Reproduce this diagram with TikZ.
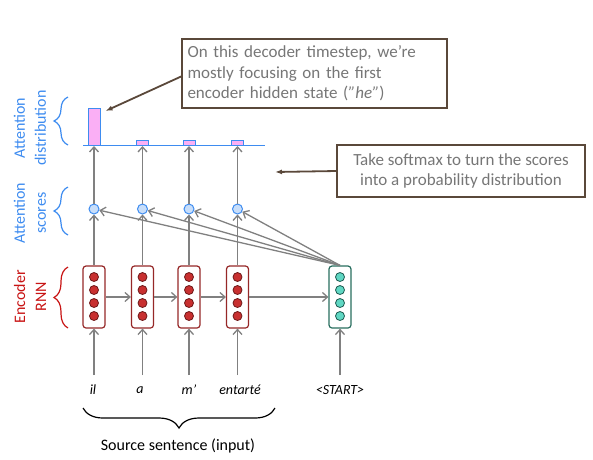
\documentclass[tikz,border=0pt]{standalone}
\usepackage{fontspec}
\setmainfont{Carlito}
\usetikzlibrary{arrows.meta,decorations.pathreplacing}
\definecolor{garr}{RGB}{128,128,128}
\definecolor{attblue}{RGB}{62,140,240}
\definecolor{labred}{RGB}{200,20,20}
\definecolor{encborder}{RGB}{150,40,40}
\definecolor{encfill}{RGB}{200,48,48}
\definecolor{encdotb}{RGB}{110,25,25}
\definecolor{decborder}{RGB}{40,110,95}
\definecolor{decfill}{RGB}{95,215,195}
\definecolor{decdotb}{RGB}{30,90,80}
\definecolor{scorefill}{RGB}{200,222,250}
\definecolor{barfill}{RGB}{250,175,245}
\definecolor{brownc}{RGB}{90,72,58}
\definecolor{calltext}{RGB}{118,118,118}
\begin{document}
\begin{tikzpicture}[x=1pt,y=-1pt,
  garrow/.style={draw=garr,line width=1.3pt,-{Straight Barb[length=5pt,width=9pt]}},
  barrow/.style={draw=brownc,line width=1.8pt,-{Latex[length=7pt,width=5pt]}},
  encbox/.style={draw=encborder,fill=white,line width=1.2pt,rounded corners=3pt,minimum width=22pt,minimum height=62pt,inner sep=0pt},
  decbox/.style={draw=decborder,fill=white,line width=1.2pt,rounded corners=3pt,minimum width=22pt,minimum height=62pt,inner sep=0pt},
  encdot/.style={circle,draw=encdotb,fill=encfill,line width=0.8pt,minimum size=9pt,inner sep=0pt},
  decdot/.style={circle,draw=decdotb,fill=decfill,line width=0.8pt,minimum size=9pt,inner sep=0pt},
  score/.style={circle,draw=attblue,fill=scorefill,line width=1pt,minimum size=10pt,inner sep=0pt},
  bar/.style={draw=attblue,fill=barfill,line width=1pt,minimum width=12pt,inner sep=0pt,anchor=south},
  bracestyle/.style={decorate,line width=1.2pt},
  sidelab/.style={rotate=90,align=center,font=\fontsize{16}{21}\selectfont},
  word/.style={font=\fontsize{14}{16}\selectfont\itshape,inner sep=0pt},
  callout/.style={draw=brownc,line width=1.8pt,text=calltext,font=\fontsize{17}{20.5}\selectfont,inner sep=5pt}
]
\useasboundingbox (0,0) rectangle (593,459);

% encoder columns
\foreach \i/\x in {1/94,2/142.5,3/189,4/237.5}{
  \node[encbox] (e\i) at (\x,297) {};
  \foreach \k/\yy in {1/277,2/290,3/303,4/316}
    \node[encdot] (e\i d\k) at (\x,\yy) {};
  \node[score] (s\i) at (\x,209) {};
  \coordinate (i\i) at (\x,375);
}
% decoder
\node[decbox] (d) at (340,297) {};
\foreach \k/\yy in {1/277,2/290,3/303,4/316}
  \node[decdot] (dd\k) at (340,\yy) {};
\coordinate (i5) at (340,375);

% distribution
\draw[attblue,line width=1.2pt] (83,145.7) -- (265,145.7);
\node[bar,minimum height=37pt] (b1) at (94,146) {};
\node[bar,minimum height=5pt] (b2) at (142.5,146) {};
\node[bar,minimum height=5pt] (b3) at (189,146) {};
\node[bar,minimum height=5pt] (b4) at (237.5,146) {};

% arrows
\foreach \i in {1,2,3,4}{
  \draw[garrow] (i\i) -- (e\i.south);
  \draw[garrow] (e\i.north) -- (s\i);
  \draw[garrow] (s\i) -- (b\i.south);
  \draw[garrow] (d.north) -- (s\i);
}
\draw[garrow] (i5) -- (d.south);
\draw[garrow] (e1.east) -- (e2.west);
\draw[garrow] (e2.east) -- (e3.west);
\draw[garrow] (e3.east) -- (e4.west);
\draw[garrow] (e4.east) -- (d.west);

% words
\node[word] (w1) at (93,390) {il};
\node[word] (w2) at (140,390) {a};
\node[word] (w3) at (189,390) {m’};
\node[word] (w4) at (240,390) {entarté};
\node[word] (w5) at (340,390) {<START>};

% bottom brace
\draw[bracestyle,decoration={brace,amplitude=20pt}] (275,408) -- (83,408);
\node[font=\fontsize{16}{19}\selectfont] (src) at (178,446) {Source sentence (input)};

% side labels and braces
\draw[bracestyle,attblue,decoration={brace,amplitude=14pt}] (68,145) -- (68,97);
\node[sidelab,text=attblue] (ldist) at (30,128) {Attention\\distribution};
\draw[bracestyle,attblue,decoration={brace,amplitude=14pt}] (68,235) -- (68,187);
\node[sidelab,text=attblue] (lscore) at (30,213) {Attention\\scores};
\draw[bracestyle,labred,decoration={brace,amplitude=14pt}] (68,328) -- (68,267);
\node[sidelab,text=labred] (lenc) at (30,297) {Encoder\\RNN};

% callouts
\node[callout,minimum width=265pt,minimum height=69pt,text width=254pt,align=left] (c1) at (314.5,73.5)
  {On this decoder timestep, we’re\\mostly focusing on the first\\encoder hidden state (\textit{"he"})};
\node[callout,minimum width=248pt,minimum height=52pt,align=center] (c2) at (461,171)
  {Take softmax to turn the scores\\into a probability distribution};
\coordinate (t2) at (275,172);
\draw[barrow] ([yshift=-3pt]c1.west) -- ([xshift=5pt,yshift=-3pt]b1.north east);
\draw[barrow] (c2.west) -- (t2);
\end{tikzpicture}
\end{document}
